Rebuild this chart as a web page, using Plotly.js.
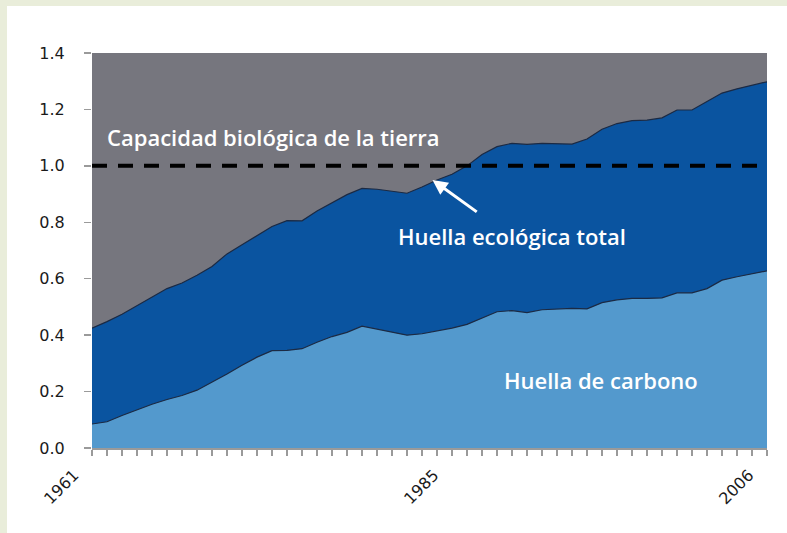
<!DOCTYPE html>
<html>
<head>
<meta charset="utf-8">
<script src="https://cdn.plot.ly/plotly-3.0.1.min.js"></script>
<style>
  html, body { margin:0; padding:0; width:787px; height:533px; overflow:hidden; background:#e9edda; }
  #panel { position:absolute; left:7px; top:6px; width:780px; height:527px; background:#ffffff; }
  #chart { position:absolute; left:0; top:0; width:787px; height:533px; }
</style>
</head>
<body>
<div id="panel"></div>
<div id="chart"></div>
<script>
const years = [1961,1962,1963,1964,1965,1966,1967,1968,1969,1970,
               1971,1972,1973,1974,1975,1976,1977,1978,1979,1980,
               1981,1982,1983,1984,1985,1986,1987,1988,1989,1990,
               1991,1992,1993,1994,1995,1996,1997,1998,1999,2000,
               2001,2002,2003,2004,2005,2006];
const totalFootprint = [0.425,0.448,0.474,0.505,0.535,0.565,0.585,0.612,0.643,0.688,
                        0.720,0.752,0.785,0.806,0.805,0.840,0.868,0.898,0.920,0.917,
                        0.910,0.903,0.925,0.950,0.970,1.000,1.040,1.068,1.080,1.076,
                        1.080,1.078,1.077,1.095,1.130,1.150,1.160,1.162,1.170,1.198,
                        1.198,1.228,1.258,1.273,1.285,1.298];
const carbonFootprint = [0.085,0.093,0.115,0.136,0.155,0.172,0.186,0.205,0.232,0.262,
                         0.293,0.322,0.345,0.346,0.352,0.375,0.395,0.410,0.432,0.422,
                         0.410,0.400,0.405,0.415,0.425,0.438,0.460,0.483,0.487,0.480,
                         0.490,0.493,0.495,0.493,0.515,0.525,0.530,0.530,0.532,0.550,
                         0.550,0.565,0.595,0.607,0.618,0.628];
const biocapacity = 1.0;
const labeledYears = [1961, 1985, 2006];
const yTicks = [0, 0.2, 0.4, 0.6, 0.8, 1.0, 1.2, 1.4];
const labels = {
  capacity: "Capacidad biológica de la tierra",
  total: "Huella ecológica total",
  carbon: "Huella de carbono"
};

const xTickText = years.map(y => labeledYears.includes(y) ? String(y) : "");

const traces = [
  {
    x: years, y: carbonFootprint, type: "scatter", mode: "lines",
    fill: "tozeroy", fillcolor: "#5399cd",
    line: { color: "#1b2a44", width: 1.2 }, hoverinfo: "skip"
  },
  {
    x: years, y: totalFootprint, type: "scatter", mode: "lines",
    fill: "tonexty", fillcolor: "#0a54a0",
    line: { color: "#1b2a44", width: 1.2 }, hoverinfo: "skip"
  }
];

const annFont = { family: "Open Sans, sans-serif", size: 22, color: "#ffffff", weight: 600 };

const layout = {
  width: 787, height: 533,
  margin: { l: 92, r: 20, t: 53, b: 85 },
  paper_bgcolor: "rgba(0,0,0,0)",
  plot_bgcolor: "#76767e",
  showlegend: false,
  xaxis: {
    range: [years[0], years[years.length - 1]],
    tickvals: years, ticktext: xTickText,
    tickangle: -45,
    ticks: "outside", ticklen: 6, tickcolor: "#9a9a9a", tickwidth: 1.5,
    ticklabelstandoff: 4, ticklabelshift: -18,
    showline: true, linecolor: "#9a9a9a", linewidth: 1.5,
    showgrid: false, zeroline: false,
    tickfont: { family: "DejaVu Sans, sans-serif", size: 16, color: "#1a1a1a" }
  },
  yaxis: {
    range: [0, 1.4],
    tickvals: yTicks, tickformat: ".1f",
    ticks: "outside", ticklen: 7, tickcolor: "#9a9a9a", tickwidth: 1.5,
    ticklabelstandoff: 16,
    showline: false, showgrid: false, zeroline: false,
    tickfont: { family: "DejaVu Sans, sans-serif", size: 16, color: "#1a1a1a" }
  },
  shapes: [
    {
      type: "line", xref: "x", yref: "y",
      x0: years[0], x1: years[years.length - 1], y0: biocapacity, y1: biocapacity,
      line: { color: "#000000", width: 4, dash: "15px,11px" }
    }
  ],
  annotations: [
    { x: 1973.1, y: 1.102, xref: "x", yref: "y", text: labels.capacity, showarrow: false, font: annFont },
    { x: 1989.0, y: 0.751, xref: "x", yref: "y", text: labels.total, showarrow: false, font: annFont },
    { x: 1994.9, y: 0.241, xref: "x", yref: "y", text: labels.carbon, showarrow: false, font: annFont },
    { x: 1983.7, y: 0.95, xref: "x", yref: "y", axref: "x", ayref: "y",
      ax: 1986.75, ay: 0.833, text: "", showarrow: true,
      arrowhead: 2, arrowsize: 1, arrowwidth: 3, arrowcolor: "#ffffff" }
  ]
};

Plotly.newPlot("chart", traces, layout, { staticPlot: true, displayModeBar: false });
</script>
</body>
</html>
